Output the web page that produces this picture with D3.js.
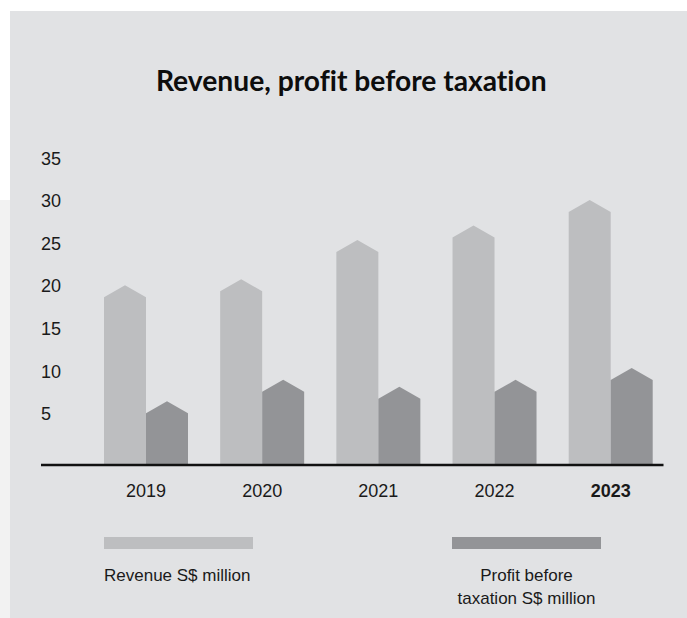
<!DOCTYPE html>
<html>
<head>
<meta charset="utf-8">
<script src="https://cdn.jsdelivr.net/npm/d3@7"></script>
<style>
  html, body { margin: 0; padding: 0; background: #ffffff; }
  svg { display: block; }
</style>
</head>
<body>
<svg id="chart" width="687" height="618"></svg>
<script>
// ---- data ----
const years = ["2019", "2020", "2021", "2022", "2023"];
const revenue = [18.7, 19.4, 24.0, 25.7, 28.7];
const profit = [5.1, 7.6, 6.8, 7.6, 9.0];
const yTicks = [5, 10, 15, 20, 25, 30, 35];
const seriesNames = ["Revenue S$ million", "Profit before taxation S$ million"];
const seriesColors = ["#bdbec0", "#939497"];

const svg = d3.select("#chart");
const W = 687, H = 618;

// background panels
svg.append("rect").attr("x", 0).attr("y", 200).attr("width", 10).attr("height", H - 200).attr("fill", "#f2f2f2");
svg.append("rect").attr("x", 10).attr("y", 11).attr("width", W - 10).attr("height", H - 11).attr("fill", "#e1e2e4");

// title
const title = svg.append("text")
  .attr("x", 351.3).attr("y", 91)
  .attr("text-anchor", "middle")
  .attr("font-family", "Lato, 'Open Sans', sans-serif")
  .attr("font-weight", 700)
  .attr("font-size", 24)
  .style("font-variant-ligatures", "none")
  .style("font-feature-settings", "'liga' 0")
  .attr("fill", "#0d0d0d")
  .text("Revenue, profit before taxation");
const tl = title.node().getComputedTextLength();
title.attr("font-size", 24 * 391 / tl);

// scales
const baseY = 465;
const y = d3.scaleLinear().domain([0, 35]).range([456.6, 158.3]);
const x0 = d3.scaleBand().domain(years).range([104, 652.7]).paddingInner(0.277).paddingOuter(0);
const x1 = d3.scaleBand().domain([0, 1]).range([0, x0.bandwidth()]);
const peakH = 12;

// y tick labels
svg.append("g").selectAll("text").data(yTicks).join("text")
  .attr("x", 41)
  .attr("y", d => y(d))
  .attr("dy", "0.35em")
  .attr("font-family", "'Liberation Sans', Arial, sans-serif")
  .attr("font-size", 18)
  .attr("fill", "#1a1a1a")
  .text(d => d);

// bars (pointed tops)
const rows = years.map((yr, i) => ({ yr, vals: [revenue[i], profit[i]] }));
const barPath = (x, w, v) => {
  const t = y(v);
  return `M${x},${baseY}L${x},${t}L${x + w / 2},${t - peakH}L${x + w},${t}L${x + w},${baseY}Z`;
};
const g = svg.append("g");
rows.forEach(r => {
  r.vals.forEach((v, j) => {
    g.append("path")
      .attr("d", barPath(x0(r.yr) + x1(j), x1.bandwidth(), v))
      .attr("fill", seriesColors[j]);
  });
});

// axis line
svg.append("line")
  .attr("x1", 41).attr("x2", 663.5)
  .attr("y1", baseY).attr("y2", baseY)
  .attr("stroke", "#111").attr("stroke-width", 2.5);

// x labels
svg.append("g").selectAll("text").data(years).join("text")
  .attr("x", d => x0(d) + x0.bandwidth() / 2)
  .attr("y", 497)
  .attr("text-anchor", "middle")
  .attr("font-family", "'Liberation Sans', Arial, sans-serif")
  .attr("font-size", 18)
  .attr("font-weight", d => d === "2023" ? 700 : 400)
  .attr("fill", "#1a1a1a")
  .text(d => d);

// legend
const lg = svg.append("g");
lg.append("rect").attr("x", 104).attr("y", 537).attr("width", 149).attr("height", 12).attr("fill", seriesColors[0]);
lg.append("rect").attr("x", 452).attr("y", 537).attr("width", 149).attr("height", 12).attr("fill", seriesColors[1]);
lg.append("text")
  .attr("x", 104).attr("y", 581)
  .attr("font-family", "'Liberation Sans', Arial, sans-serif")
  .attr("font-size", 17).attr("fill", "#1a1a1a")
  .text(seriesNames[0]);
const t2 = lg.append("text")
  .attr("text-anchor", "middle")
  .attr("font-family", "'Liberation Sans', Arial, sans-serif")
  .attr("font-size", 17).attr("fill", "#1a1a1a");
t2.append("tspan").attr("x", 526.5).attr("y", 581).text("Profit before");
t2.append("tspan").attr("x", 526.5).attr("y", 604).text("taxation S$ million");
</script>
</body>
</html>
